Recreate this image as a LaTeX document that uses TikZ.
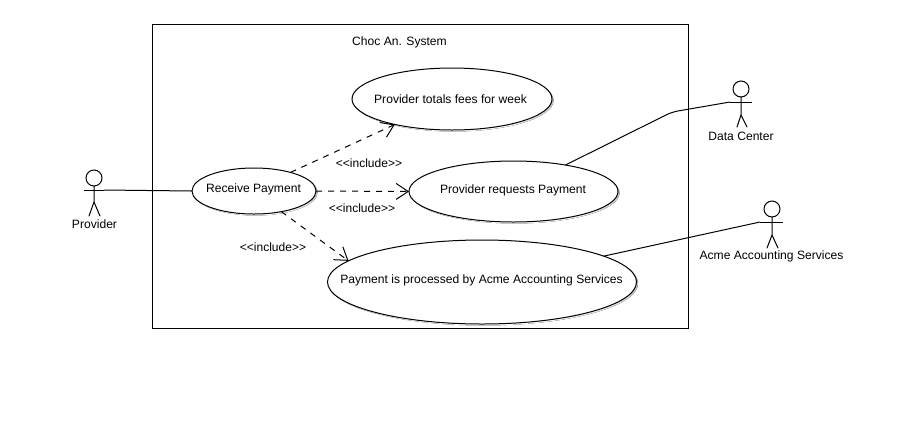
\documentclass[tikz,border=0pt]{standalone}
\usepackage{fontspec}
\setmainfont{Liberation Sans}
\usetikzlibrary{arrows.meta,shapes.geometric}
\definecolor{shade}{gray}{0.72}
\tikzset{
  x=1pt,y=-1pt,
  every path/.style={line width=1pt},
  usecase/.style={draw=black,fill=white,ellipse,inner sep=0pt,outer sep=0pt},
  lbl/.style={inner sep=0pt,font=\fontsize{12.1}{14}\selectfont},
  incl/.style={inner sep=0pt,font=\fontsize{12}{14}\selectfont},
  head/.style={draw=black,fill=white,circle,minimum size=16pt,inner sep=0pt,outer sep=0pt},
  dep/.style={dash pattern=on 6pt off 6pt,-{Straight Barb[length=12pt,width=16pt,line width=1pt]}},
  assoc/.style={rounded corners=6pt},
  limb/.style={line cap=round}
}
\begin{document}
\begin{tikzpicture}
\useasboundingbox (0,0) rectangle (912,432);
\fill[white] (0,0) rectangle (912,432);
\node[draw=black,minimum width=536pt,minimum height=304pt,inner sep=0pt,outer sep=0pt] (sys) at (420.5,176) {};
\node[lbl] (sysl) at (399.5,42.5) {Choc An. System};

% use case shadows
\fill[shade] (453.5,100.5) ellipse [x radius=100,y radius=31];
\fill[shade] (255.5,192.5) ellipse [x radius=62,y radius=23];
\fill[shade] (515,193) ellipse [x radius=104.5,y radius=30.5];
\fill[shade] (483.5,283.5) ellipse [x radius=154.5,y radius=42];

\node[usecase,minimum width=200pt,minimum height=62pt] (totals) at (452,99) {};
\node[lbl] at (450.5,99.5) {Provider totals fees for week};
\node[usecase,minimum width=124pt,minimum height=46pt] (recv) at (254,191) {};
\node[lbl] at (253.5,189.5) {Receive Payment};
\node[usecase,minimum width=209pt,minimum height=61pt] (req) at (513.5,191.5) {};
\node[lbl] at (513,190.5) {Provider requests Payment};
\node[usecase,minimum width=309pt,minimum height=84pt] (pay) at (482,282) {};
\node[lbl] at (481.5,280.5) {Payment is processed by Acme Accounting Services};

% actors
\node[head] (a1) at (94,178) {};
\node[head] (a2) at (741,89) {};
\node[head] (a3) at (772,209) {};
\coordinate (a1l) at (84,190); \coordinate (a1r) at (104,190);
\coordinate (a2l) at (730,102); \coordinate (a2r) at (752,102);
\coordinate (a3l) at (760,222); \coordinate (a3r) at (783,222);
\draw[limb] (a1.south) -- (94,202) -- (89,216) (94,202) -- (100,216);
\draw[limb] (a2.south) -- (741,115) -- (737,127) (741,115) -- (747,127);
\draw[limb] (a3.south) -- (772,235) -- (767,248) (772,235) -- (778,248);
\draw (a1l) -- (a1r);
\draw (a2l) -- (a2r);
\draw (a3l) -- (a3r);
\node[lbl] (a1t) at (94.5,224.5) {Provider};
\node[lbl] (a2t) at (741,136.5) {Data Center};
\node[lbl] (a3t) at (771.5,256.5) {Acme Accounting Services};

% associations
\draw (a1r) -- (recv.west);
\coordinate (bend) at (672,112);
\draw[assoc] (req.27) -- (bend) -- (a2l);
\draw (pay.12.3) -- (a3l);

% includes
\draw[dep] (recv.27) -- (totals.204);
\draw[dep] (recv.east) -- (req.west);
\draw[dep] (recv.-37.6) -- (pay.171);
\node[incl] (i1) at (369,163.5) {<{}<include>{}>};
\node[incl] (i2) at (362,208.5) {<{}<include>{}>};
\node[incl] (i3) at (273,247.5) {<{}<include>{}>};
\end{tikzpicture}
\end{document}
